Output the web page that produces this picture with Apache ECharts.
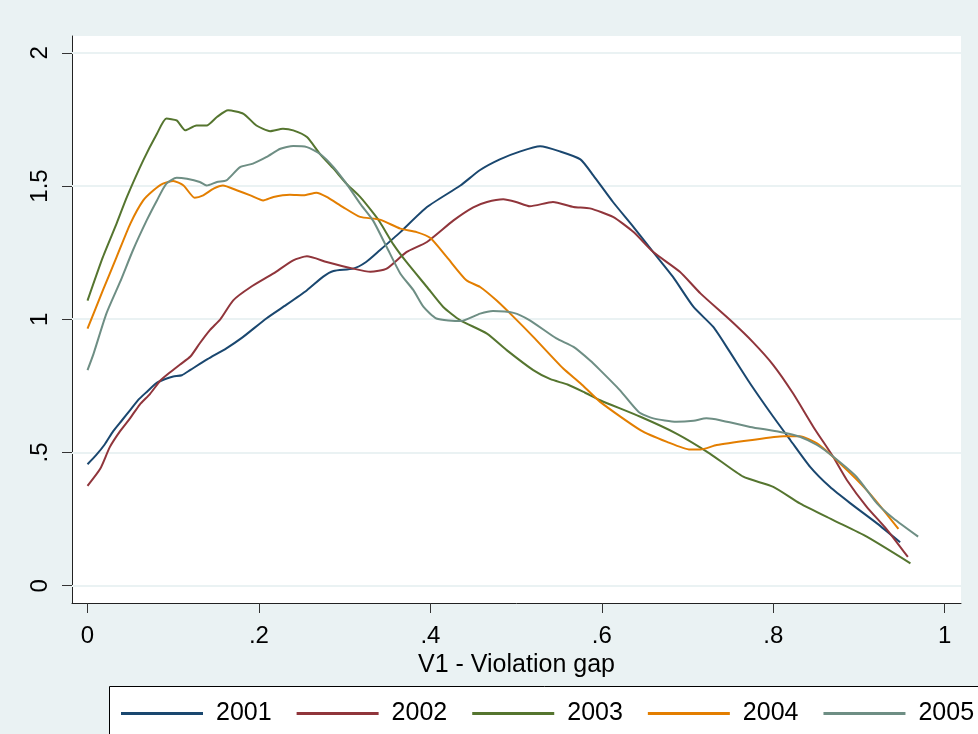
<!DOCTYPE html>
<html><head><meta charset="utf-8">
<script src="https://cdn.jsdelivr.net/npm/echarts@6/dist/echarts.min.js"></script>
<style>html,body{margin:0;padding:0;background:#EAF2F3}#c{width:978px;height:734px}</style>
</head><body><div id="c"></div><script>
const years = ['2001','2002','2003','2004','2005'];
const xTicks = [0,0.2,0.4,0.6,0.8,1];
const yTicks = [0,0.5,1,1.5,2];

const x2001 = [0,0.01,0.02,0.03,0.04,0.05,0.06,0.07,0.08,0.09,0.1,0.11,0.12,0.14,0.162,0.18,0.209,0.23,0.256,0.275,0.287,0.31,0.325,0.341,0.365,0.396,0.435,0.458,0.481,0.505,0.528,0.551,0.575,0.59,0.613,0.637,0.66,0.683,0.707,0.73,0.748,0.773,0.8,0.82,0.843,0.866,0.89,0.921,0.948];
const y2001 = [0.456,0.49,0.53,0.58,0.62,0.66,0.70,0.73,0.76,0.775,0.785,0.79,0.81,0.85,0.891,0.93,1.004,1.05,1.109,1.16,1.181,1.19,1.215,1.259,1.327,1.421,1.502,1.56,1.60,1.63,1.649,1.63,1.60,1.54,1.44,1.346,1.252,1.159,1.046,0.971,0.884,0.759,0.634,0.546,0.446,0.371,0.309,0.234,0.163];

const x2002 = [0,0.015,0.026,0.038,0.05,0.061,0.073,0.085,0.096,0.108,0.12,0.131,0.143,0.155,0.17,0.19,0.217,0.24,0.256,0.279,0.31,0.33,0.349,0.372,0.396,0.427,0.45,0.466,0.485,0.5,0.516,0.543,0.567,0.586,0.613,0.637,0.66,0.691,0.715,0.75,0.776,0.8,0.823,0.847,0.87,0.886,0.909,0.933,0.957];
const y2002 = [0.375,0.44,0.52,0.58,0.63,0.68,0.72,0.77,0.80,0.83,0.86,0.91,0.96,1.0,1.071,1.12,1.172,1.221,1.236,1.215,1.19,1.178,1.19,1.252,1.29,1.371,1.42,1.44,1.45,1.44,1.424,1.44,1.421,1.416,1.384,1.327,1.252,1.178,1.097,0.996,0.915,0.828,0.722,0.595,0.483,0.396,0.296,0.209,0.108];

const x2003 = [0,0.018,0.034,0.046,0.065,0.081,0.092,0.104,0.114,0.127,0.139,0.151,0.164,0.182,0.197,0.213,0.228,0.24,0.256,0.271,0.287,0.302,0.318,0.333,0.341,0.357,0.372,0.396,0.415,0.435,0.466,0.489,0.52,0.54,0.56,0.58,0.598,0.645,0.687,0.726,0.765,0.8,0.831,0.87,0.909,0.96];
const y2003 = [1.07,1.234,1.36,1.459,1.596,1.696,1.753,1.746,1.709,1.727,1.727,1.759,1.784,1.771,1.727,1.706,1.715,1.709,1.684,1.621,1.565,1.509,1.459,1.40,1.365,1.28,1.215,1.121,1.046,0.996,0.946,0.884,0.809,0.775,0.755,0.725,0.696,0.634,0.571,0.496,0.409,0.371,0.309,0.246,0.184,0.084];

const x2004 = [0,0.018,0.034,0.05,0.065,0.077,0.088,0.1,0.112,0.125,0.135,0.147,0.158,0.174,0.19,0.205,0.217,0.236,0.252,0.267,0.279,0.298,0.318,0.341,0.365,0.384,0.4,0.419,0.442,0.458,0.477,0.497,0.52,0.555,0.575,0.598,0.645,0.676,0.703,0.715,0.734,0.773,0.812,0.831,0.851,0.878,0.909,0.946];
const y2004 = [0.965,1.109,1.234,1.359,1.446,1.484,1.509,1.519,1.502,1.456,1.465,1.49,1.502,1.484,1.465,1.446,1.459,1.467,1.465,1.475,1.459,1.421,1.384,1.374,1.34,1.327,1.305,1.234,1.146,1.121,1.071,1.009,0.934,0.815,0.76,0.69,0.584,0.54,0.511,0.511,0.528,0.546,0.561,0.561,0.534,0.459,0.359,0.213];

const x2005 = [0,0.007,0.022,0.038,0.053,0.069,0.081,0.092,0.104,0.116,0.131,0.139,0.151,0.162,0.178,0.193,0.209,0.225,0.24,0.256,0.271,0.287,0.302,0.318,0.333,0.349,0.365,0.38,0.392,0.407,0.435,0.458,0.473,0.497,0.516,0.547,0.567,0.586,0.598,0.621,0.643,0.66,0.687,0.707,0.722,0.738,0.773,0.808,0.831,0.851,0.87,0.897,0.921,0.94,0.969];
const y2005 = [0.809,0.87,1.021,1.14,1.259,1.371,1.446,1.509,1.531,1.527,1.515,1.502,1.515,1.521,1.571,1.584,1.609,1.64,1.65,1.646,1.621,1.571,1.509,1.434,1.371,1.271,1.171,1.11,1.046,1.003,0.993,1.021,1.031,1.024,0.996,0.928,0.896,0.846,0.809,0.734,0.652,0.628,0.615,0.619,0.628,0.621,0.596,0.577,0.559,0.528,0.484,0.409,0.309,0.253,0.184];

const xs = [x2001,x2002,x2003,x2004,x2005];
const ys = [y2001,y2002,y2003,y2004,y2005];
const colors = ['#1a476f','#90353b','#55752f','#e37e00','#6e8e84'];
const FONT = "'Liberation Sans', Arial, sans-serif";
const fmt = v => { const r = Math.round(v*10)/10; return r === 0 ? '0' : String(r).replace(/^0/, ''); };

const chart = echarts.init(document.getElementById('c'), null, {renderer:'canvas'});
chart.setOption({
  animation: false,
  backgroundColor: '#EAF2F3',
  textStyle: {fontFamily: FONT},
  graphic: [{
    type: 'rect', left: 109, top: 686, z: 0,
    shape: {width: 900, height: 100},
    style: {fill: '#ffffff', stroke: '#000000', lineWidth: 1}
  }],
  grid: {left: 72, right: 17, top: 36, bottom: 131, show: true, backgroundColor: '#ffffff', borderWidth: 0},
  xAxis: {
    type: 'value', min: -0.0181, max: 1.019,
    name: 'V1 - Violation gap', nameLocation: 'middle', nameGap: 45,
    nameTextStyle: {fontSize: 25, color: '#000', fontFamily: FONT},
    axisLine: {show: true, onZero: false, lineStyle: {color: '#222', width: 1}},
    axisTick: {show: true, length: 10, inside: false, customValues: xTicks, lineStyle: {color: '#333', width: 1}},
    axisLabel: {customValues: xTicks, formatter: fmt, fontSize: 24, color: '#000', margin: 21, fontFamily: FONT},
    splitLine: {show: false}
  },
  yAxis: {
    type: 'value', min: -0.0649, max: 2.063,
    axisLine: {show: true, onZero: false, lineStyle: {color: '#222', width: 1}},
    axisTick: {show: true, length: 10, inside: false, customValues: yTicks, lineStyle: {color: '#333', width: 1}},
    axisLabel: {customValues: yTicks, formatter: fmt, fontSize: 24, color: '#000', margin: 20, rotate: 90, fontFamily: FONT},
    splitLine: {show: false}
  },
  legend: {
    left: 121, top: 701, width: 1000, padding: 0, itemGap: 25, itemWidth: 82, itemHeight: 3, icon: 'rect',
    textStyle: {fontSize: 25, color: '#000', fontFamily: FONT, padding: [0,0,0,8]},
    data: years
  },
  series: years.map((y, i) => ({
    name: y, type: 'line', showSymbol: false, smooth: 0.2,
    color: colors[i],
    lineStyle: {width: 2, color: colors[i]},
    data: xs[i].map((x, j) => [x, ys[i][j]]),
    markLine: i === 0 ? {
      silent: true, symbol: 'none', label: {show: false}, z: 1,
      lineStyle: {color: '#EAF2F3', width: 2, type: 'solid'},
      data: yTicks.map(v => ({yAxis: v}))
    } : undefined,
    z: 3
  }))
});
</script></body></html>
